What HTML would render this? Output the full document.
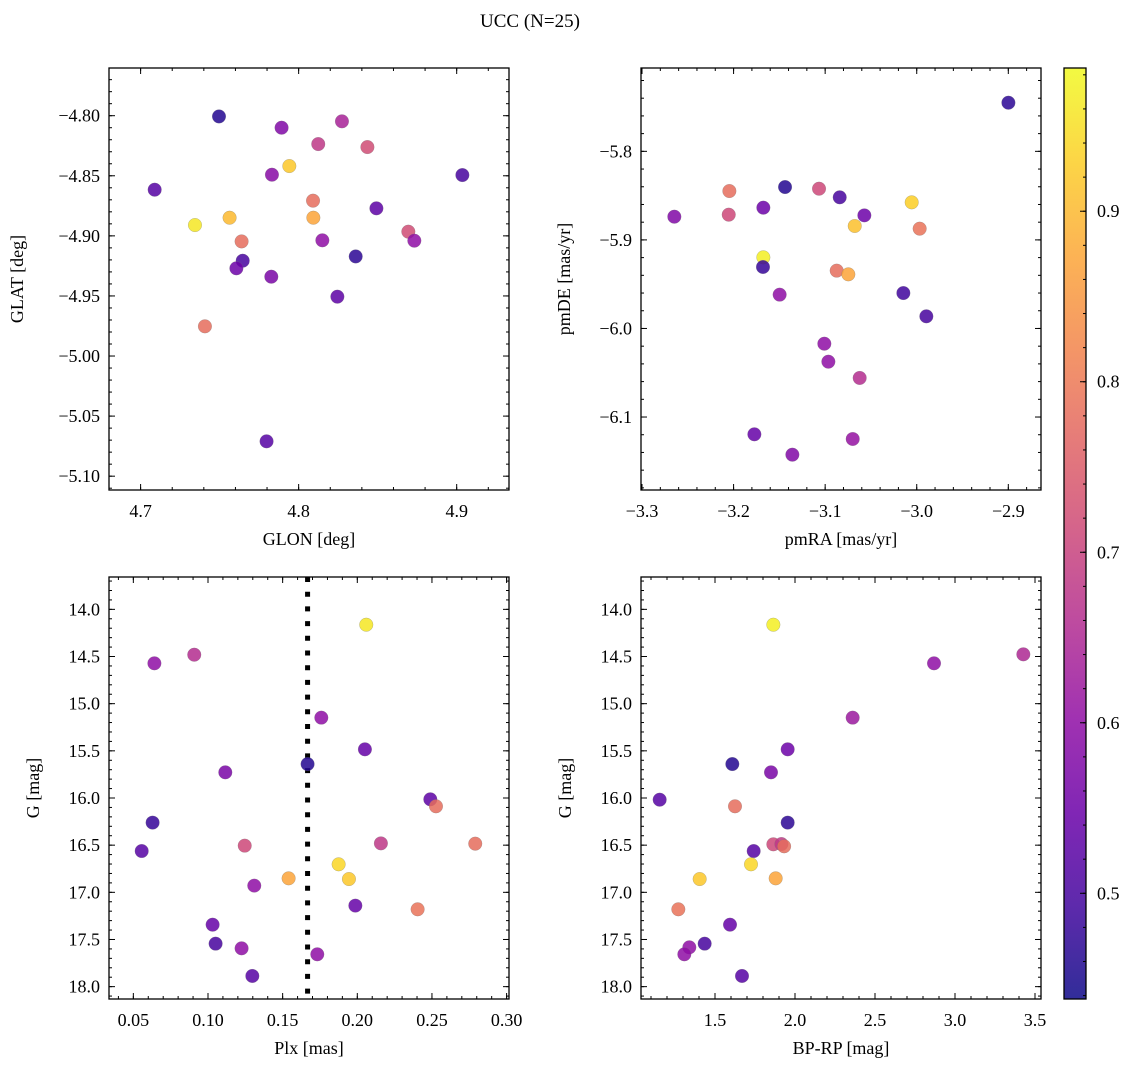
<!DOCTYPE html>
<html><head><meta charset="utf-8">
<style>
html,body{margin:0;padding:0;background:#fff;}
svg{display:block;font-family:"Liberation Serif","DejaVu Serif",serif;}
</style></head>
<body>
<svg id="fig" width="1136" height="1067" viewBox="0 0 1136 1067" xmlns="http://www.w3.org/2000/svg">
<rect width="1136" height="1067" fill="#fff"/>
<text x="530" y="27" font-size="19" text-anchor="middle">UCC (N=25)</text>
</svg>
<script>
// ---- data ----
const glon = [4.7496,4.7892,4.8274,4.8124,4.8435,4.7941,4.7831,4.9036,4.7089,4.8091,4.8492,4.8093,4.7563,4.7344,4.8694,4.8732,4.8150,4.7639,4.8361,4.7646,4.7606,4.7827,4.8245,4.7407,4.7797];
const glat = [-4.8006,-4.810,-4.8047,-4.8236,-4.8261,-4.8419,-4.8491,-4.8494,-4.8616,-4.8707,-4.8771,-4.8849,-4.8849,-4.8910,-4.8965,-4.9040,-4.9037,-4.9046,-4.9171,-4.9207,-4.9270,-4.9340,-4.9506,-4.9753,-5.0710];
const probA = [0.46,0.58,0.64,0.68,0.72,0.92,0.59,0.50,0.52,0.78,0.53,0.87,0.90,0.96,0.72,0.60,0.60,0.78,0.47,0.50,0.55,0.57,0.53,0.78,0.52];

const pmra = [-2.8999,-3.2647,-3.2046,-3.2053,-3.1438,-3.1675,-3.1067,-3.0841,-3.0572,-3.0055,-3.0677,-2.9968,-3.1675,-3.1679,-3.0874,-3.0747,-3.1497,-3.0146,-2.9895,-3.1009,-3.0965,-3.0623,-3.1773,-3.0699,-3.1358];
const pmde = [-5.7451,-5.8738,-5.8448,-5.8715,-5.8403,-5.8636,-5.8422,-5.8519,-5.8723,-5.8576,-5.8843,-5.8873,-5.9197,-5.9306,-5.9347,-5.9389,-5.9618,-5.9600,-5.9863,-6.0172,-6.0375,-6.0559,-6.1195,-6.1248,-6.1425];
const probB = [0.47,0.58,0.78,0.71,0.46,0.55,0.71,0.50,0.55,0.93,0.91,0.79,0.97,0.48,0.78,0.87,0.60,0.49,0.50,0.60,0.60,0.66,0.54,0.61,0.58];

const plx = [0.2060,0.0641,0.0908,0.1759,0.2051,0.1667,0.1116,0.2489,0.2527,0.0629,0.0556,0.1246,0.2158,0.2790,0.1875,0.1540,0.1944,0.1310,0.1987,0.2404,0.1031,0.1051,0.1225,0.1732,0.1297];
const gmagC = [14.163,14.572,14.481,15.148,15.484,15.640,15.728,16.014,16.088,16.261,16.562,16.505,16.481,16.484,16.703,16.852,16.859,16.929,17.141,17.180,17.343,17.544,17.594,17.657,17.887];
const probC = [0.96,0.60,0.66,0.60,0.54,0.46,0.57,0.53,0.78,0.48,0.52,0.71,0.68,0.78,0.94,0.87,0.92,0.60,0.54,0.79,0.54,0.50,0.60,0.60,0.52];
const plxLine = [0.1667];

const bprp = [1.8646,2.8688,3.4271,2.3604,1.9542,1.6083,1.85,1.1542,1.625,1.9542,1.7417,1.8646,1.915,1.932,1.725,1.4042,1.8792,1.2708,1.5938,1.4354,1.3396,1.3083,1.6688];
const gmagD = [14.163,14.572,14.477,15.148,15.484,15.640,15.728,16.018,16.088,16.261,16.562,16.491,16.488,16.512,16.703,16.859,16.852,17.180,17.343,17.544,17.583,17.657,17.887];
const probD = [0.97,0.60,0.65,0.62,0.55,0.46,0.57,0.52,0.78,0.47,0.52,0.71,0.68,0.78,0.94,0.92,0.87,0.79,0.54,0.50,0.60,0.60,0.52];

const cbTicks = [0.5,0.6,0.7,0.8,0.9];
const cMin = 0.438, cMax = 0.984;

// ---- helpers ----
const NS = "http://www.w3.org/2000/svg";
const fig = document.getElementById('fig');
function mk(tag, attrs, parent){ const e=document.createElementNS(NS,tag); for(const k in attrs) e.setAttribute(k,attrs[k]); (parent||fig).appendChild(e); return e; }
const plasma = [[13,8,135],[65,4,157],[106,0,168],[143,13,164],[177,42,144],[204,71,120],[225,100,98],[242,132,75],[252,166,54],[252,206,37],[240,249,33]];
function cmap(v){ let t=(v-cMin)/(cMax-cMin); t=Math.max(0,Math.min(1,t)); const f=t*10, i=Math.min(9,Math.floor(f)), r=f-i; const a=plasma[i], b=plasma[i+1];
  return `rgb(${Math.round(a[0]+(b[0]-a[0])*r)},${Math.round(a[1]+(b[1]-a[1])*r)},${Math.round(a[2]+(b[2]-a[2])*r)})`; }
function fmt(v,d){ const s=Math.abs(v).toFixed(d); return (v<0?'\u2212':'')+s; }

function panel(o){
  const {x0,y0,w,h,xd,yd,xMaj,xMin,yMaj,yMin,xDec,yDec,name}=o;
  const sx=v=>x0+(v-xd[0])/(xd[1]-xd[0])*w;
  const sy=v=>y0+(v-yd[0])/(yd[1]-yd[0])*h;
  const g=mk('g',{});
  
  
  const eps=1e-9;
  function ticks(step, len, axis){
    const d = axis==='x'?xd:yd; const lo=Math.min(d[0],d[1]), hi=Math.max(d[0],d[1]);
    for(let k=Math.ceil((lo-eps)/step); k*step<=hi+eps; k++){
      const v=k*step;
      if(axis==='x'){ const x=sx(v);
        mk('line',{x1:x,x2:x,y1:y0+h,y2:y0+h-len,stroke:'#000','stroke-width':1},g);
        mk('line',{x1:x,x2:x,y1:y0,y2:y0+len,stroke:'#000','stroke-width':1},g);
      } else { const y=sy(v);
        mk('line',{x1:x0,x2:x0+len,y1:y,y2:y,stroke:'#000','stroke-width':1},g);
        mk('line',{x1:x0+w,x2:x0+w-len,y1:y,y2:y,stroke:'#000','stroke-width':1},g);
      }
    }
  }
  ticks(xMin,3,'x'); ticks(yMin,3,'y'); ticks(xMaj,6,'x'); ticks(yMaj,6,'y');
  for(const v of o.xLabels){ const t=mk('text',{x:sx(v),y:y0+h+27,'font-size':18,'text-anchor':'middle'},g); t.textContent=fmt(v,xDec);
      }
  for(const v of o.yLabels){ const t=mk('text',{x:x0-9,y:sy(v)+6,'font-size':18,'text-anchor':'end'},g); t.textContent=fmt(v,yDec);
      }
  if(o.vline!==undefined){ const l=mk('line',{x1:sx(o.vline),x2:sx(o.vline),y1:y0,y2:y0+h,stroke:'#000','stroke-width':5,'stroke-dasharray':'5 9.7'},g);
      }
  for(let i=0;i<o.xs.length;i++){
    const c=mk('circle',{cx:sx(o.xs[i]),cy:sy(o.ys[i]),r:6.8,fill:cmap(o.cs[i]),'fill-opacity':0.85,stroke:'#777','stroke-width':0.4,'stroke-opacity':0.6},g);
     
  }
  mk('rect',{x:x0,y:y0,width:w,height:h,fill:'none',stroke:'#000','stroke-width':1.3},g);
  const xt=mk('text',{x:x0+w/2,y:y0+h+55,'font-size':18,'text-anchor':'middle'},g); xt.textContent=o.xTitle;
   
  const yx=o.yTitleX, yy=y0+h/2;
  const yt=mk('text',{x:yx,y:yy,'font-size':18,'text-anchor':'middle',transform:`rotate(-90 ${yx} ${yy})`},g); yt.textContent=o.yTitle;
   
}

panel({name:'glon-glat-panel',x0:109,y0:68,w:400,h:422,xd:[4.680,4.9331],yd:[-4.7603,-5.1115],xMaj:0.1,xMin:0.02,yMaj:0.05,yMin:0.01,xDec:1,yDec:2,
  xLabels:[4.7,4.8,4.9],yLabels:[-4.80,-4.85,-4.90,-4.95,-5.00,-5.05,-5.10],xs:glon,ys:glat,cs:probA,xTitle:'GLON [deg]',yTitle:'GLAT [deg]',yTitleX:23});
panel({name:'pm-panel',x0:641,y0:68,w:400,h:422,xd:[-3.3011,-2.8643],yd:[-5.7059,-6.1824],xMaj:0.1,xMin:0.02,yMaj:0.1,yMin:0.02,xDec:1,yDec:1,
  xLabels:[-3.3,-3.2,-3.1,-3.0,-2.9],yLabels:[-5.8,-5.9,-6.0,-6.1],xs:pmra,ys:pmde,cs:probB,xTitle:'pmRA [mas/yr]',yTitle:'pmDE [mas/yr]',yTitleX:570});
panel({name:'plx-g-panel',x0:109,y0:577,w:400,h:422,xd:[0.0337,0.3016],yd:[13.657,18.131],xMaj:0.05,xMin:0.01,yMaj:0.5,yMin:0.1,xDec:2,yDec:1,
  xLabels:[0.05,0.10,0.15,0.20,0.25,0.30],yLabels:[14.0,14.5,15.0,15.5,16.0,16.5,17.0,17.5,18.0],xs:plx,ys:gmagC,cs:probC,vline:plxLine[0],xTitle:'Plx [mas]',yTitle:'G [mag]',yTitleX:39});
panel({name:'cmd-panel',x0:641,y0:577,w:400,h:422,xd:[1.0375,3.5375],yd:[13.657,18.131],xMaj:0.5,xMin:0.1,yMaj:0.5,yMin:0.1,xDec:1,yDec:1,
  xLabels:[1.5,2.0,2.5,3.0,3.5],yLabels:[14.0,14.5,15.0,15.5,16.0,16.5,17.0,17.5,18.0],xs:bprp,ys:gmagD,cs:probD,xTitle:'BP-RP [mag]',yTitle:'G [mag]',yTitleX:571});

// colorbar
const cbX=1064, cbY=68, cbW=22, cbH=931;
const cbg=mk('g',{});


const defs=mk('defs',{},cbg);
const grad=mk('linearGradient',{id:'pl',x1:0,y1:1,x2:0,y2:0},defs);
for(let i=0;i<=20;i++){ const v=cMin+(cMax-cMin)*i/20; mk('stop',{offset:i/20,'stop-color':cmap(v),'stop-opacity':0.85},grad); }
mk('rect',{x:cbX,y:cbY,width:cbW,height:cbH,fill:'url(#pl)'},cbg);
const cy=v=>cbY+cbH-(v-cMin)/(cMax-cMin)*cbH;
for(let k=Math.ceil(cMin/0.02); k*0.02<=cMax; k++){ const y=cy(k*0.02); mk('line',{x1:cbX+cbW,x2:cbX+cbW-3,y1:y,y2:y,stroke:'#000','stroke-width':1},cbg); }
for(const v of cbTicks){ const y=cy(v); mk('line',{x1:cbX+cbW,x2:cbX+cbW-6,y1:y,y2:y,stroke:'#000','stroke-width':1},cbg);
  const t=mk('text',{x:cbX+cbW+11,y:y+6,'font-size':18},cbg); t.textContent=v.toFixed(1);
    }
mk('rect',{x:cbX,y:cbY,width:cbW,height:cbH,fill:'none',stroke:'#000','stroke-width':1.3},cbg);
</script>
</body></html>
